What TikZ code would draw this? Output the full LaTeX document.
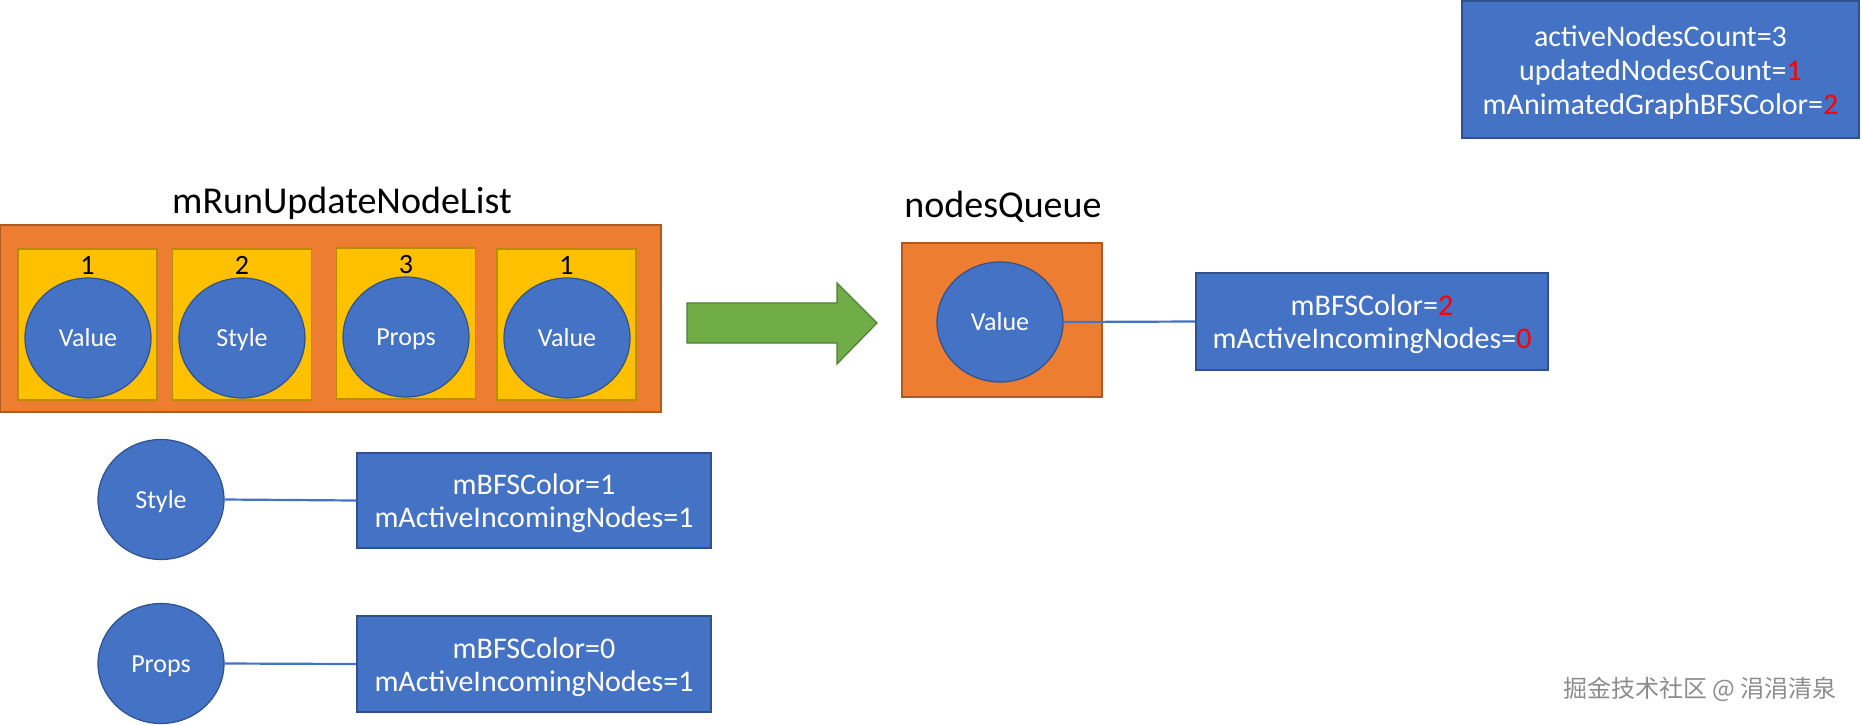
\documentclass[tikz,border=0pt]{standalone}
\usepackage{fontspec}
\setmainfont{Carlito}
\newfontfamily\cjk{Noto Sans CJK SC}
\usetikzlibrary{shapes.geometric}

\definecolor{boxblue}{HTML}{4472C4}
\definecolor{boxedge}{HTML}{2F528F}
\definecolor{listorange}{HTML}{ED7D31}
\definecolor{orangeedge}{HTML}{AE5A21}
\definecolor{slotyellow}{HTML}{FFC000}
\definecolor{slotedge}{HTML}{BC8C00}
\definecolor{arrowgreen}{HTML}{70AD47}
\definecolor{arrowedge}{HTML}{507E32}

% strut that pushes a box's first line down a little
\newcommand{\firstline}{\rule{0pt}{27pt}}

\begin{document}
\begin{tikzpicture}[
    x=1pt, y=-1pt,
    listbox/.style={draw=orangeedge, fill=listorange, line width=1.5pt, inner sep=0pt},
    slot/.style={draw=slotedge, fill=slotyellow, line width=1.2pt, minimum width=139pt, minimum height=151pt, inner sep=0pt},
    vcircle/.style={ellipse, draw=boxedge, fill=boxblue, line width=1.2pt, minimum width=126pt, minimum height=120pt, inner sep=0pt, text=white, text height=17.5pt, text depth=0pt, font=\fontsize{26}{29}\selectfont},
    info/.style={draw=boxedge, fill=boxblue, line width=1.5pt, inner sep=0pt, text=white, align=center, font=\fontsize{30}{33}\selectfont},
    caption/.style={anchor=base, font=\fontsize{38}{44}\selectfont},
    idx/.style={anchor=base, font=\fontsize{28}{31}\selectfont},
    link/.style={draw=boxblue, line width=2.2pt}
]
\useasboundingbox (0,0) rectangle (1862,724);

% ---- update list ----
\node[caption] (listtitle) at (342,213) {mRunUpdateNodeList};
\node[listbox, minimum width=661pt, minimum height=187pt] (list) at (330.5,318.5) {};

\node[slot] (s1) at (87.5,324.5) {};
\node[slot] (s2) at (242,324.5) {};
\node[slot] (s3) at (406,323.5) {};
\node[slot] (s4) at (566.5,324.5) {};

\node[idx] (n1) at (87.5,274) {1};
\node[idx] (n2) at (242,274) {2};
\node[idx] (n3) at (406,273) {3};
\node[idx] (n4) at (566.5,274) {1};

\node[vcircle] (c1) at (88,338) {Value};
\node[vcircle] (c2) at (242,338) {Style};
\node[vcircle] (c3) at (406,337) {Props};
\node[vcircle] (c4) at (567,338) {Value};

% ---- arrow ----
\draw[draw=arrowedge, fill=arrowgreen, line width=1.2pt]
    (687,303) -- (837,303) -- (837,283) -- (877,323) -- (837,364) -- (837,343) -- (687,343) -- cycle;

% ---- queue ----
\node[caption] (queuetitle) at (1003,217) {nodesQueue};
\node[listbox, minimum width=200pt, minimum height=154pt] (queue) at (1002,320) {};
\node[vcircle] (qv) at (1000,322) {Value};
\node[info, minimum width=352pt, minimum height=97pt] (qinfo) at (1372,321.5)
    {\firstline mBFSColor=\textcolor{red}{2}\\mActiveIncomingNodes=\textcolor{red}{0}};

% ---- counters ----
\node[info, minimum width=397pt, minimum height=137pt, font=\fontsize{30}{34}\selectfont] (counts) at (1660.5,69.5)
    {\firstline activeNodesCount=3\\updatedNodesCount=\textcolor{red}{1}\\mAnimatedGraphBFSColor=\textcolor{red}{2}};

% ---- graph nodes ----
\node[vcircle] (style) at (161,499.5) {Style};
\node[info, minimum width=354pt, minimum height=95pt] (styleinfo) at (534,500.5)
    {\firstline mBFSColor=1\\mActiveIncomingNodes=1};

\node[vcircle] (props) at (161,663.5) {Props};
\node[info, minimum width=354pt, minimum height=96pt] (propsinfo) at (534,664)
    {\firstline mBFSColor=0\\mActiveIncomingNodes=1};

% ---- links ----
\draw[link] (qv.east) -- (qinfo.west);
\draw[link] (style.east) -- (styleinfo.west);
\draw[link] (props.east) -- (propsinfo.west);

\node[text=black!45, font=\cjk\fontsize{24}{28}\selectfont] (mark) at (1700,689) {掘金技术社区 @ 涓涓清泉};
\end{tikzpicture}
\end{document}
